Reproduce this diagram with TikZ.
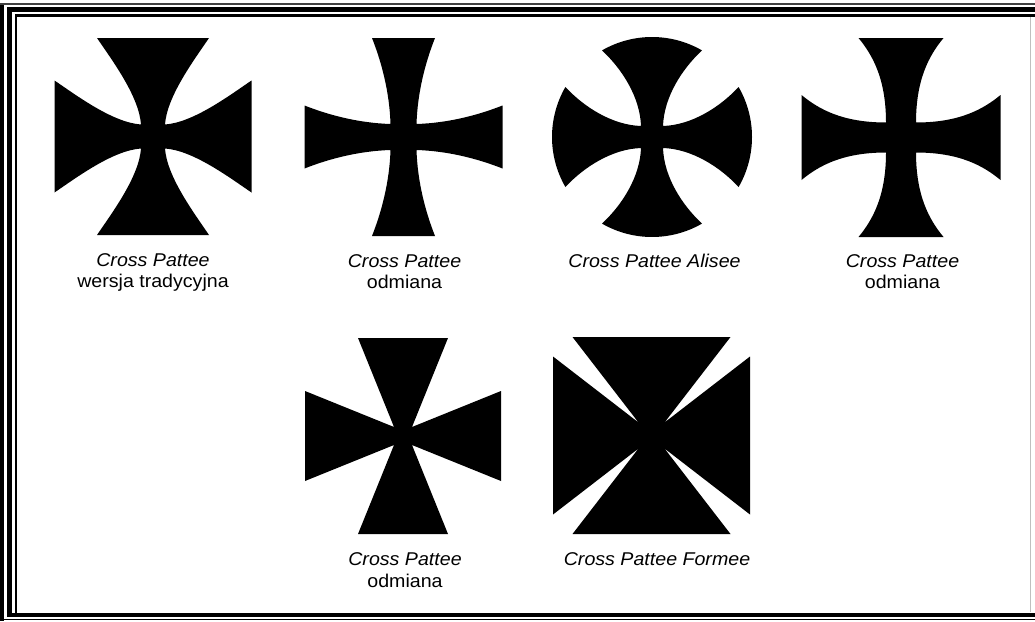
\documentclass[tikz,border=0pt]{standalone}
\usepackage{fontspec}
\setmainfont{Liberation Sans}
\usetikzlibrary{positioning}
\newcommand{\armcross}[3]{%
  \fill[crossfill, shift={#1}] (-#2,-#2)
    \foreach \r in {0,-90,-180,-270} {[rotate=\r] #3} -- cycle;}
\newcommand{\widetext}[1]{\scalebox{1.06}[1]{#1}}

\begin{document}
\begin{tikzpicture}[
    x=1pt, y=-1pt,
    crossfill/.style={fill=black},
    frameband/.style={fill=black},
    caption/.style={anchor=base, inner sep=0pt, font=\fontsize{18.5}{21}\selectfont}
  ]
  \fill[white] (0,0) rectangle (1035,621);
  \useasboundingbox (0,0) rectangle (1035,621);

  \fill[frameband] (0,4) rectangle (4.2,621);
  \draw[black!75, line width=1.4pt] (0,4) -- (1035,4);
  \draw[line width=1.5pt] (0,619.5) -- (1035,619.5);
  \fill[frameband] (7.3,7.3) rectangle (12.3,616.5);
  \fill[frameband] (7.3,7.3) rectangle (1035,11.7);
  \fill[frameband] (7.3,612.5) rectangle (1035,616.5);
  \fill[frameband] (15,14) rectangle (17.3,613);
  \fill[frameband] (15,14) rectangle (1035,16.7);
  \draw[black!25, line width=0.8pt] (1030.5,17) -- (1030.5,612);

  \armcross{(153,136.5)}{12}{-- (-12,-12) .. controls (-14,-40) and (-40,-75) .. (-56,-98.5)
    -- (56,-98.5) .. controls (40,-75) and (14,-40) .. (12,-12)}
  \armcross{(403.5,137)}{13}{-- (-13,-13) .. controls (-14,-45) and (-22,-75) .. (-31.5,-99)
    -- (31.5,-99) .. controls (22,-75) and (14,-45) .. (13,-13)}
  \armcross{(652,137)}{11}{-- (-11,-11) .. controls (-12,-40) and (-30,-68) .. (-50,-86.6)
    arc[start angle=120, end angle=60, radius=100pt] .. controls (30,-68) and (12,-40) .. (11,-11)}
  \armcross{(901,137.5)}{15}{-- (-15,-15) .. controls (-15,-58) and (-28,-82) .. (-42.5,-99.5)
    -- (42.5,-99.5) .. controls (28,-82) and (15,-58) .. (15,-15)}
  \armcross{(403,436)}{9}{-- (-9,-9) -- (-45,-98) -- (45,-98) -- (9,-9)}
  \armcross{(651.5,435.5)}{13}{-- (-13,-13) -- (-79,-98.5) -- (79,-98.5) -- (13,-13)}

  \node[caption] (trad) at (153,266) {\widetext{\itshape Cross Pattee}};
  \node[caption] (tradsub) at (153,287) {\widetext{wersja tradycyjna}};
  \node[caption] (odmA) at (404.5,267) {\widetext{\itshape Cross Pattee}};
  \node[caption] (odmAsub) at (404.5,288) {\widetext{odmiana}};
  \node[caption] (alisee) at (654.5,267) {\widetext{\itshape Cross Pattee Alisee}};
  \node[caption] (odmB) at (902.5,267) {\widetext{\itshape Cross Pattee}};
  \node[caption] (odmBsub) at (902.5,288) {\widetext{odmiana}};
  \node[caption] (odmC) at (405,565) {\widetext{\itshape Cross Pattee}};
  \node[caption] (odmCsub) at (405,587) {\widetext{odmiana}};
  \node[caption] (formee) at (657,565) {\widetext{\itshape Cross Pattee Formee}};
\end{tikzpicture}
\end{document}
